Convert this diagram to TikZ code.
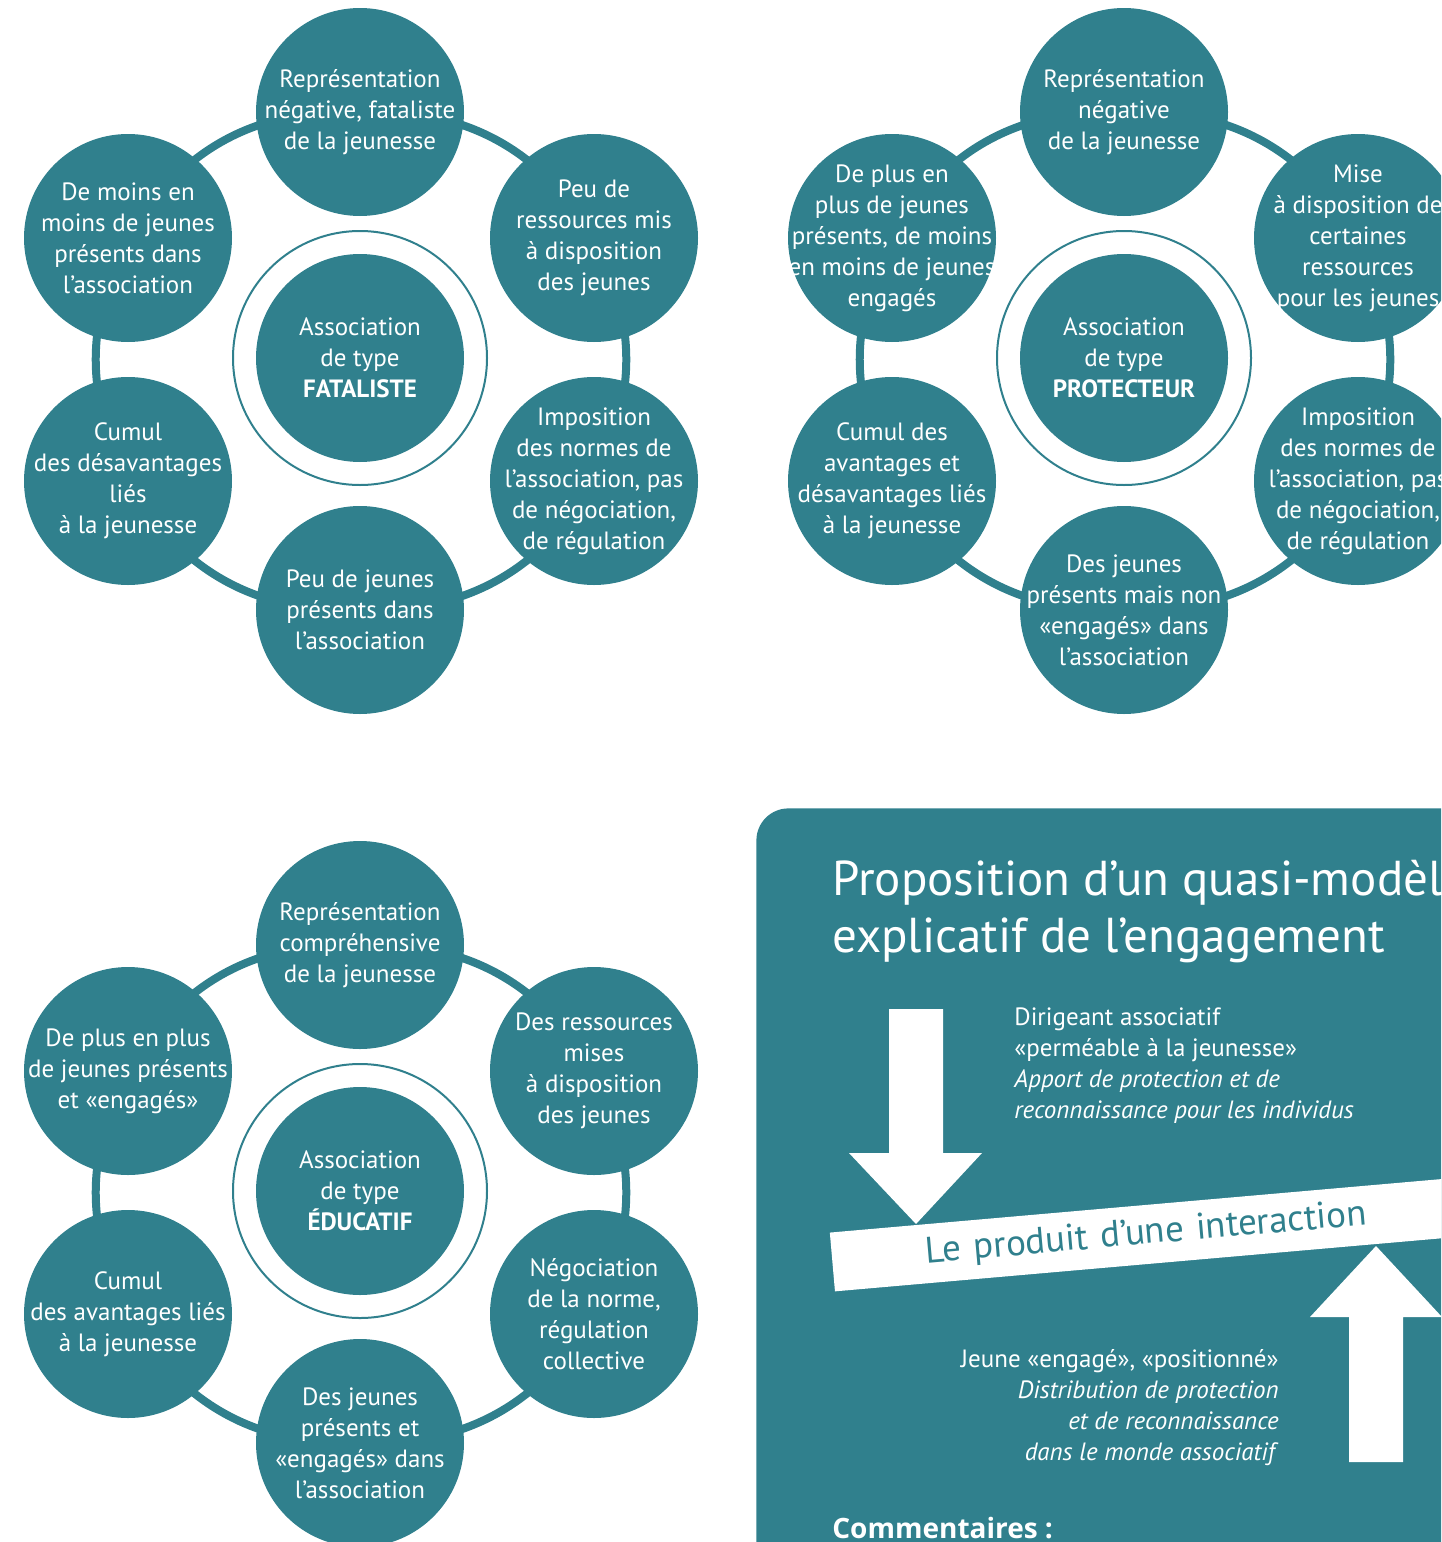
\documentclass[tikz,border=0pt]{standalone}
\usepackage{fontspec}
\setmainfont{PT Sans}
\newfontfamily\commfont{Open Sans}
\usetikzlibrary{positioning,backgrounds}
\definecolor{assoc}{RGB}{48,128,141}

\begin{document}
\begin{tikzpicture}
		[x=0.5pt,y=-0.5pt,
		main node/.style={shape=circle,fill=assoc,text=white,minimum size=104pt,inner sep=-15pt,align=center,font=\fontsize{12.5}{15.5}\selectfont},
		centre node/.style={main node},
		ring/.style={draw=assoc,line width=4pt},
		thin ring/.style={draw=assoc,line width=1pt},
		panel text/.style={text=white,font=\fontsize{12.5}{15.5}\selectfont}]
		\useasboundingbox (0,0) rectangle (1441,1542);
		\clip (0,0) rectangle (1441,1542);
		
		% association de type fataliste
		\node [main node] (1) at (360,112) {Représentation\\négative, fataliste\\de la jeunesse};
		\node [main node] (2) at (594,238) {Peu de\\ressources mis\\à disposition\\des jeunes};
		\node [main node] (3) at (594,481) {Imposition\\des normes de\\l’association, pas\\de négociation,\\de régulation};
		\node [main node] (4) at (360,610) {Peu de jeunes\\présents dans\\l’association};
		\node [main node] (5) at (128,481) {Cumul\\des désavantages\\liés\\à la jeunesse};
		\node [main node] (6) at (128,238) {De moins en\\moins de jeunes\\présents dans\\l’association};
		\node [centre node] (7) at (360,358) {Association\\de type\\\textbf{FATALISTE}};
		
		% association de type protecteur
		\node [main node] (8) at (1124,112) {Représentation\\négative\\de la jeunesse};
		\node [main node] (9) at (1358,238) {Mise\\à disposition de\\certaines\\ressources\\pour les jeunes};
		\node [main node] (10) at (1358,481) {Imposition\\des normes de\\l’association, pas\\de négociation,\\de régulation};
		\node [main node] (11) at (1124,610) {Des jeunes\\présents mais non\\«engagés» dans\\l’association};
		\node [main node] (12) at (892,481) {Cumul des\\avantages et\\désavantages liés\\à la jeunesse};
		\node [main node] (13) at (892,238) {De plus en\\plus de jeunes\\présents, de moins\\en moins de jeunes\\engagés};
		\node [centre node] (14) at (1124,358) {Association\\de type\\\textbf{PROTECTEUR}};
		
		% association de type educatif
		\node [main node] (15) at (360,945) {Représentation\\compréhensive\\de la jeunesse};
		\node [main node] (16) at (594,1071) {Des ressources\\mises\\à disposition\\des jeunes};
		\node [main node] (17) at (594,1314) {Négociation\\de la norme,\\régulation\\collective};
		\node [main node] (18) at (360,1443) {Des jeunes\\présents et\\«engagés» dans\\l’association};
		\node [main node] (19) at (128,1314) {Cumul\\des avantages liés\\à la jeunesse};
		\node [main node] (20) at (128,1071) {De plus en plus\\de jeunes présents\\et «engagés»};
		\node [centre node] (21) at (360,1191) {Association\\de type\\\textbf{ÉDUCATIF}};
		
		\begin{scope}[on background layer]
		\path[ring]
		(1.center) edge [bend left=31] (2.center)
		(2.center) edge [bend left=27] (3.center)
		(3.center) edge [bend left=31] (4.center)
		(4.center) edge [bend left=31] (5.center)
		(5.center) edge [bend left=27] (6.center)
		(6.center) edge [bend left=31] (1.center)
		
		(8.center) edge [bend left=31] (9.center)
		(9.center) edge [bend left=27] (10.center)
		(10.center) edge [bend left=31] (11.center)
		(11.center) edge [bend left=31] (12.center)
		(12.center) edge [bend left=27] (13.center)
		(13.center) edge [bend left=31] (8.center)
		
		(15.center) edge [bend left=31] (16.center)
		(16.center) edge [bend left=27] (17.center)
		(17.center) edge [bend left=31] (18.center)
		(18.center) edge [bend left=31] (19.center)
		(19.center) edge [bend left=27] (20.center)
		(20.center) edge [bend left=31] (15.center)
		;
		\end{scope}
		\draw [thin ring] (7) circle [radius=127];
		\draw [thin ring] (14) circle [radius=127];
		\draw [thin ring] (21) circle [radius=127];
		
		% le quasi-modele
		\node [fill=assoc,rounded corners=16pt,anchor=north west,minimum width=380pt,minimum height=400pt] (22) at (756,808) {};
		\node [text=white,anchor=west,align=left,inner sep=0pt,font=\fontsize{24.5}{28.5}\selectfont] (23) at (832,912) {Proposition d’un quasi-modèle\\explicatif de l’engagement};
		\node [panel text,anchor=west,align=left,inner sep=0pt] (24) at (1014,1066) {Dirigeant associatif\\«perméable à la jeunesse»\\\textit{Apport de protection et de}\\\textit{reconnaissance pour les individus}};
		\node [panel text,anchor=east,align=right,inner sep=0pt] (26) at (1279,1408) {Jeune «engagé», «positionné»\\\textit{Distribution de protection}\\\textit{et de reconnaissance}\\\textit{dans le monde associatif}};
		\fill [white] (889,1009) -- (943,1009) -- (943,1153) -- (982,1153) -- (916,1224) -- (849,1153) -- (889,1153) -- cycle;
		\fill [white] (1349,1462) -- (1403,1462) -- (1403,1317) -- (1442,1317) -- (1376,1246) -- (1310,1317) -- (1349,1317) -- cycle;
		\node [fill=white,text=assoc,anchor=west,rotate=5,minimum height=29.5pt,inner xsep=47pt,text width=360pt,align=left,font=\fontsize{18.5}{20}\selectfont] (25) at (832,1262) {Le produit d’une interaction};
		\node [text=white,anchor=west,inner sep=0pt,font=\commfont\bfseries\fontsize{14}{16}\selectfont] (27) at (832,1528) {Commentaires :};
		
		\end{tikzpicture}
\end{document}
